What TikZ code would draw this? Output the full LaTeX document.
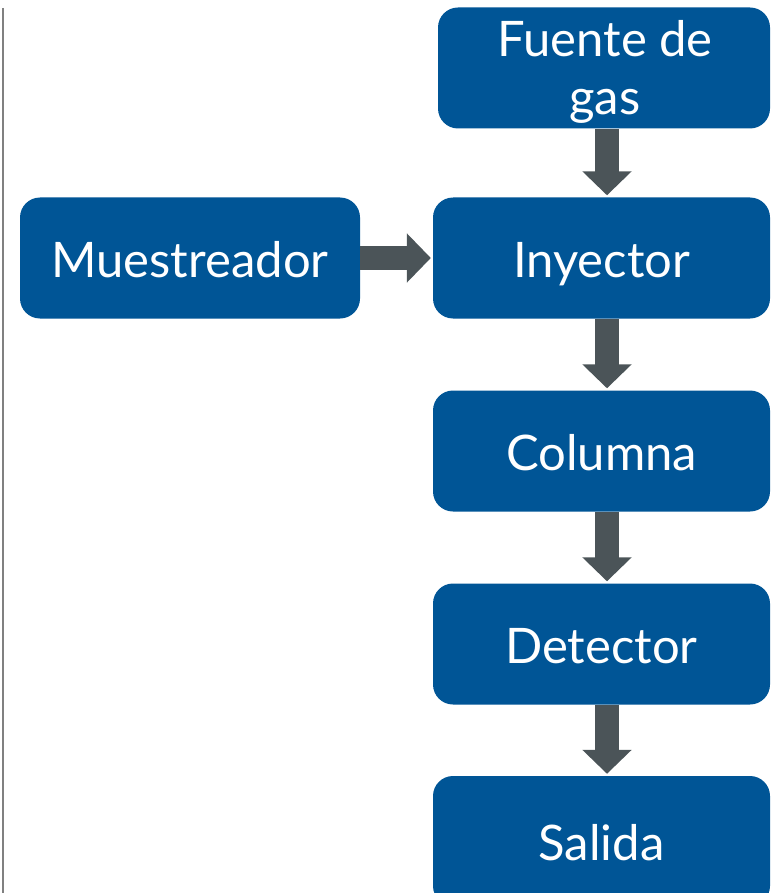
\documentclass[tikz,border=0pt]{standalone}
\usepackage{fontspec}
\setmainfont{Lato}
\usetikzlibrary{arrows.meta}
\definecolor{boxblue}{RGB}{0,85,150}
\definecolor{arrowgray}{RGB}{75,84,88}
\definecolor{rulegray}{RGB}{128,128,128}
\begin{document}
\begin{tikzpicture}[x=1pt,y=-1pt,
  stagebox/.style={fill=boxblue, rounded corners=20pt, text=white,
    minimum height=121pt, inner sep=0pt, align=center,
    text height=38pt, text depth=0pt,
    font=\fontsize{49}{58}\selectfont},
  stagetext/.style={text=white, inner sep=0pt, align=center,
    font=\fontsize{49}{58}\selectfont},
  flowarrow/.style={draw=arrowgray, line width=24pt,
    -{Triangle[width=48pt,length=24pt]}, shorten >=2pt}]
  \useasboundingbox (0,0) rectangle (771,893);
  \clip (0,0) rectangle (771,893);
  % left rule
  \draw[rulegray, line width=1.5pt] (3,8) -- (3,893);
  % stages
  \node[stagebox, minimum width=332pt] (fuente) at (604,68) {};
  \node[stagetext, anchor=north] (fuentetxt) at (605,20) {Fuente de\\gas};
  \node[stagebox, minimum width=340pt] (muest) at (190,258) {Muestreador};
  \node[stagebox, minimum width=337pt] (iny) at (601.5,258) {Inyector};
  \node[stagebox, minimum width=337pt] (col) at (601.5,451) {Columna};
  \node[stagebox, minimum width=337pt] (det) at (601.5,644) {Detector};
  \node[stagebox, minimum width=337pt, minimum height=130pt] (sal) at (601.5,841) {Salida};
  % connectors
  \draw[flowarrow] ([xshift=3pt]fuente.south) -- ([xshift=5.5pt]iny.north);
  \draw[flowarrow] (muest.east) -- (iny.west);
  \draw[flowarrow] ([xshift=5.5pt]iny.south) -- ([xshift=5.5pt]col.north);
  \draw[flowarrow] ([xshift=5.5pt]col.south) -- ([xshift=5.5pt]det.north);
  \draw[flowarrow] ([xshift=5.5pt]det.south) -- ([xshift=5.5pt]sal.north);
\end{tikzpicture}
\end{document}
